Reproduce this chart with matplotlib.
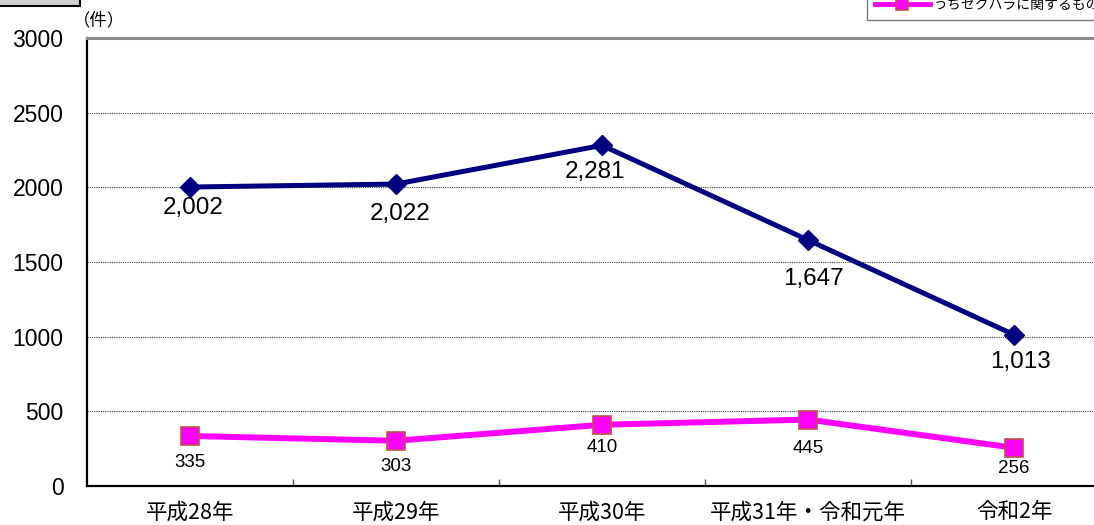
import matplotlib
matplotlib.use("Agg")
import matplotlib.pyplot as plt
from matplotlib.patches import Rectangle
from matplotlib.ticker import FixedLocator
import numpy as np

plt.rcParams['font.family'] = ['Liberation Sans', 'Noto Sans CJK JP', 'DejaVu Sans']

# ---- data ----
categories = ["平成28年", "平成29年", "平成30年", "平成31年・令和元年", "令和2年"]
total_cases = [2002, 2022, 2281, 1647, 1013]
sexhara_cases = [335, 303, 410, 445, 256]
series_names = ["相談件数", "うちセクハラに関するもの"]
y_ticks = [0, 500, 1000, 1500, 2000, 2500, 3000]
y_unit = "（件）"

W, H = 1094, 525
fig = plt.figure(figsize=(W / 100, H / 100), dpi=100)
fig.patch.set_facecolor("white")

# axes extends beyond the right edge (cropped reference)
ax = fig.add_axes([87 / W, 39 / H, 1030 / W, 448 / H])
x = np.arange(len(categories))

ax.set_xlim(-0.5, len(categories) - 0.5)
ax.set_ylim(0, 3000)

# grid
for yv in y_ticks[1:-1]:
    ax.axhline(yv, color="#404040", lw=0.8, ls=(0, (1, 1)), zorder=1)

l1, = ax.plot(x, total_cases, color="#000080", lw=3.6, marker="D", ms=10.5,
              markerfacecolor="#000080", markeredgecolor="#000080", zorder=3,
              label=series_names[0])
l2, = ax.plot(x, sexhara_cases, color="#FF00FF", lw=4.3, marker="s", ms=13,
              markerfacecolor="#FF00FF", markeredgecolor="#C0504D", markeredgewidth=1.2,
              zorder=3, label=series_names[1])

# data labels (offsets in pixels: dx, dy)
navy_off = [(3, -21), (4, -30), (-7, -27), (5, -39), (7, -27)]
pink_off = [(0, -27), (0, -26), (0, -23), (0, -29), (0, -21)]
for i, v in enumerate(total_cases):
    ax.annotate(f"{v:,}", (x[i], v), xytext=navy_off[i], textcoords="offset pixels",
                ha="center", va="center", fontsize=17.5, color="black", zorder=5)
for i, v in enumerate(sexhara_cases):
    ax.annotate(f"{v:,}", (x[i], v), xytext=pink_off[i], textcoords="offset pixels",
                ha="center", va="center", fontsize=13.5, color="black", zorder=5)

# ticks
ax.set_xticks(x)
ax.set_xticklabels(categories, fontsize=15.5, family=['Noto Sans CJK JP'])
ax.tick_params(axis="x", which="major", length=0, pad=11)
ax.xaxis.set_minor_locator(FixedLocator(list(x[:-1] + 0.5)))
ax.tick_params(axis="x", which="minor", direction="in", length=5, width=1, color="#555555")
ax.set_yticks(y_ticks)
ax.set_yticklabels([str(t) for t in y_ticks], fontsize=16.5)
ax.tick_params(axis="y", length=0, pad=17)

# spines
ax.spines["left"].set_color("black")
ax.spines["left"].set_linewidth(1.6)
ax.spines["bottom"].set_color("black")
ax.spines["bottom"].set_linewidth(1.6)
ax.spines["top"].set_color("#8a8a8a")
ax.spines["top"].set_linewidth(2.2)
ax.spines["right"].set_visible(False)

# unit label
fig.text(99 / W, 1 - 20 / H, y_unit, ha="center", va="center", fontsize=12.5,
         family=['Noto Sans CJK JP'])

# cropped gray box at top-left
fig.patches.append(Rectangle((-10 / W, 1 - 6 / H), 90 / W, 30 / H, transform=fig.transFigure,
                             facecolor="#D0D0D0", edgecolor="black", lw=1.5, figure=fig))

# legend (top entry falls outside the cropped picture)
leg = fig.legend(handles=[l1, l2], labels=series_names, loc="lower left",
                 bbox_to_anchor=(867 / W, 1 - 20 / H), bbox_transform=fig.transFigure,
                 frameon=True, fancybox=False, borderaxespad=0,
                 borderpad=0.55, handlelength=4.0, handletextpad=0.25, labelspacing=0.9,
                 markerscale=0.7, prop={'family': ['Noto Sans CJK JP'], 'size': 10})
leg.get_frame().set_edgecolor("#555555")
leg.get_frame().set_linewidth(1.0)
for lh in leg.get_lines():
    lh.set_linewidth(3.5)

fig.savefig("out.png", dpi=100)
